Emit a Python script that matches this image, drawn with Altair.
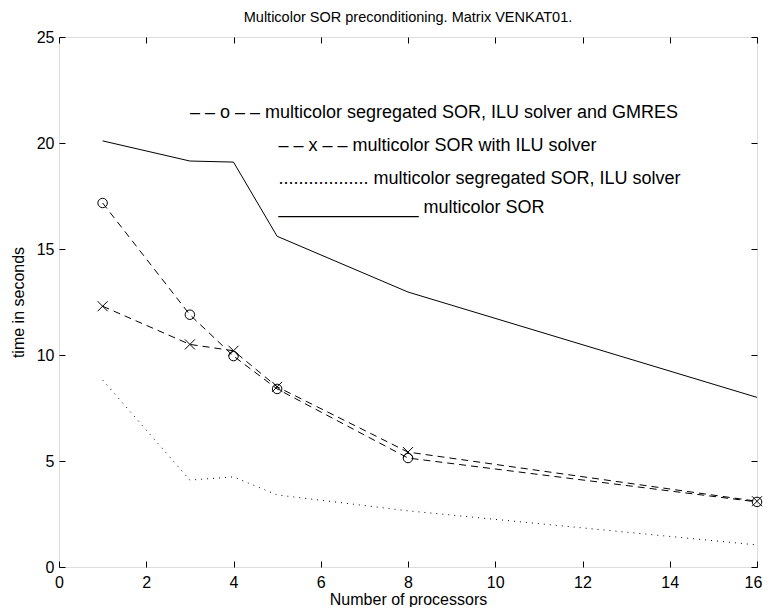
import altair as alt
import pandas as pd

procs = [1, 3, 4, 5, 8, 16]
sor = [20.1, 19.15, 19.1, 15.6, 12.97, 8.0]
seg_gmres = [17.17, 11.9, 9.95, 8.4, 5.14, 3.07]
sor_ilu = [12.3, 10.5, 10.2, 8.5, 5.42, 3.1]
seg_ilu = [8.82, 4.1, 4.25, 3.4, 2.65, 1.04]

legend_text = [
    "– – o – –   multicolor segregated SOR, ILU solver and GMRES",
    "– – x – – multicolor SOR with ILU solver",
    ".................. multicolor segregated SOR, ILU solver",
    "______________ multicolor SOR",
]
legend_x = [3.0, 5.03, 5.03, 5.03]
legend_y = [21.4, 19.86, 18.3, 16.93]

x_ticks = [0, 2, 4, 6, 8, 10, 12, 14, 16]
y_ticks = [0, 5, 10, 15, 20, 25]

FONT = "Liberation Sans"

def df(vals):
    return pd.DataFrame({"p": procs, "t": vals})

xs = alt.Scale(domain=[0, 16], nice=False, zero=False)
ys = alt.Scale(domain=[0, 25], nice=False, zero=False)

ax_common = dict(domain=False, grid=False, tickSize=6, offset=-6, tickColor="black",
                 tickWidth=1, labelFont=FONT, titleFont=FONT, labelColor="black",
                 titleColor="black", titleFontWeight="normal", labelFlush=False,
                 labelOverlap=False, labelBound=False)

x_bottom = alt.Axis(orient="bottom", values=x_ticks, title="Number of processors",
                    labelFontSize=16, titleFontSize=16, labelPadding=7, titlePadding=1,
                    labelOffset=alt.condition("datum.value == 16", alt.value(-4), alt.value(0)),
                    **ax_common)
y_left = alt.Axis(orient="left", values=y_ticks, title="time in seconds",
                  labelFontSize=16, titleFontSize=16, labelPadding=5, titlePadding=10,
                  **ax_common)
x_top = alt.Axis(orient="top", values=x_ticks, title=None, labels=False, **ax_common)
y_right = alt.Axis(orient="right", values=y_ticks, title=None, labels=False, **ax_common)

solid = alt.Chart(df(sor)).mark_line(color="black", strokeWidth=1).encode(
    x=alt.X("p:Q", scale=xs, axis=x_bottom),
    y=alt.Y("t:Q", scale=ys, axis=y_left),
)

frame = alt.Chart(df(sor)).mark_point(opacity=0).encode(
    x=alt.X("p:Q", scale=xs, axis=x_top),
    y=alt.Y("t:Q", scale=ys, axis=y_right),
)

def line(vals, dash):
    return alt.Chart(df(vals)).mark_line(color="black", strokeWidth=1, strokeDash=dash).encode(
        x=alt.X("p:Q", scale=xs, axis=None),
        y=alt.Y("t:Q", scale=ys, axis=None),
    )

gm_line = line(seg_gmres, [7, 5])
ilu_line = line(sor_ilu, [7, 5])
seg_line = line(seg_ilu, [1, 5])

circles = alt.Chart(df(seg_gmres)).mark_point(shape="circle", filled=False, color="black",
                                               size=90, strokeWidth=1, opacity=1).encode(
    x=alt.X("p:Q", scale=xs, axis=None),
    y=alt.Y("t:Q", scale=ys, axis=None),
)
crosses = alt.Chart(df(sor_ilu)).mark_point(shape="M-1,-1L1,1M-1,1L1,-1", filled=False,
                                             color="black", size=100, strokeWidth=1,
                                             opacity=1).encode(
    x=alt.X("p:Q", scale=xs, axis=None),
    y=alt.Y("t:Q", scale=ys, axis=None),
)

leg = alt.Chart(pd.DataFrame({"x": legend_x, "y": legend_y, "s": legend_text})).mark_text(
    align="left", baseline="middle", font=FONT, fontSize=18, color="black"
).encode(
    x=alt.X("x:Q", scale=xs, axis=None),
    y=alt.Y("y:Q", scale=ys, axis=None),
    text="s:N",
)

chart = alt.layer(solid, frame, gm_line, ilu_line, seg_line, circles, crosses, leg).resolve_axis(
    x="independent", y="independent"
).properties(
    width=698,
    height=530,
    title=alt.TitleParams("Multicolor SOR preconditioning. Matrix VENKAT01.", font=FONT,
                          fontSize=14.5, fontWeight="normal", color="black", anchor="middle",
                          frame="group", offset=4),
    autosize=alt.AutoSizeParams(type="none"),
    padding={"left": 51, "top": 29, "right": 6, "bottom": 40},
).configure_view(stroke="black", strokeWidth=1).configure(background="white")

chart.save("out.html", embed_options={"renderer": "svg", "actions": False})
